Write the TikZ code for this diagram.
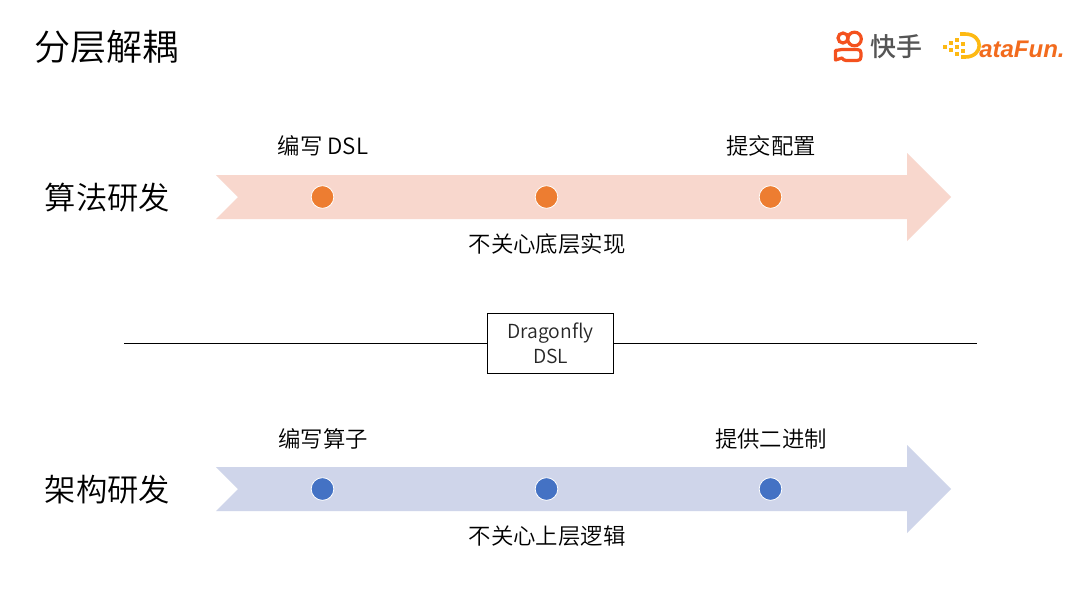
\documentclass[tikz,border=0pt]{standalone}
\usepackage{fontspec}
\setmainfont{Noto Sans CJK SC DemiLight}[BoldFont={Noto Sans CJK SC Bold}]
\newfontfamily\logof{Liberation Sans}
\newfontfamily\ksf{Noto Sans CJK SC Medium}
\definecolor{peach}{HTML}{F8D7CD}
\definecolor{lav}{HTML}{CFD5EA}
\definecolor{dotorange}{HTML}{ED7D31}
\definecolor{dotblue}{HTML}{4472C4}
\definecolor{ink}{HTML}{262626}
\definecolor{ksorange}{HTML}{F4511E}
\definecolor{dfyellow}{HTML}{FDB913}
\definecolor{dforange}{HTML}{F26B1D}
\tikzset{
  x=0.75pt,y=-0.75pt,
  txt/.style={inner sep=0pt,text=black,font=\fontsize{16.8pt}{20pt}\selectfont},
  head/.style={inner sep=0pt,text=black,font=\fontsize{23.5pt}{28pt}\selectfont},
  dotm/.style={circle,draw=white,line width=0.6pt,minimum size=17pt,inner sep=0pt},
  ksline/.style={draw=ksorange,line width=2.4pt},
  dfsq/.style={fill=dfyellow,draw=none}
}
\begin{document}
\begin{tikzpicture}
\useasboundingbox (0,0) rectangle (1080,608);
\fill[white] (0,0) rectangle (1080,608);
% title
\node[inner sep=0pt,anchor=center,text=black,font=\fontsize{27pt}{32pt}\selectfont] (title) at (106,46.5) {分层解耦};
% top arrow
\fill[peach] (216,175) -- (907,175) -- (907,153) -- (951,197) -- (907,241) -- (907,219) -- (216,219) -- (238,197) -- cycle;
\node[dotm,fill=dotorange] (a1) at (322.5,197) {};
\node[dotm,fill=dotorange] (a2) at (546.5,197) {};
\node[dotm,fill=dotorange] (a3) at (770.5,197) {};
\node[head] (h1) at (107.5,198) {算法研发};
\node[txt] (t1) at (323,146) {编写 DSL};
\node[txt] (t2) at (771,146) {提交配置};
\node[txt] (t3) at (547,244.5) {不关心底层实现};
% divider
\node[draw=black,line width=0.75pt,fill=white,minimum width=94pt,minimum height=45pt,inner sep=0pt,align=center,text=ink,font=\fontsize{14.5pt}{18.5pt}\selectfont] (box) at (550.5,343) {Dragonfly\\DSL};
\coordinate (lend) at (124,343);
\coordinate (rend) at (977,343);
\draw[black,line width=0.75pt] (lend) -- (box.west);
\draw[black,line width=0.75pt] (box.east) -- (rend);
% bottom arrow
\fill[lav] (216,467) -- (907,467) -- (907,445) -- (951,489) -- (907,533) -- (907,511) -- (216,511) -- (238,489) -- cycle;
\node[dotm,fill=dotblue] (b1) at (322.5,489) {};
\node[dotm,fill=dotblue] (b2) at (546.5,489) {};
\node[dotm,fill=dotblue] (b3) at (770.5,489) {};
\node[head] (h2) at (107.5,490) {架构研发};
\node[txt] (t4) at (323,438.5) {编写算子};
\node[txt] (t5) at (771,438.5) {提供二进制};
\node[txt] (t6) at (547,536.5) {不关心上层逻辑};
% Kuaishou logo
\draw[ksline] (843,38) circle (5);
\draw[ksline] (854.5,39) circle (6.8);
\draw[ksline,line join=round] (842,49.5) -- (857,49.5) .. controls (860,49.5) and (861,50.5) .. (861,53) -- (861,56.5) .. controls (861,59.5) and (860,60.5) .. (857,60.5) -- (846,60.5) .. controls (843.5,60.5) and (843,59) .. (842,58) -- (835.5,60) -- (835.5,50.5) -- cycle;
\node[inner sep=0pt,text={rgb,255:red,85;green,85;blue,85},font=\ksf\fontsize{19.5pt}{22pt}\selectfont] (ks) at (896,46.5) {快手};
% DataFun logo
\foreach \p in {(945,47),(951,43),(951,50),(957,40),(957,47),(957,54),(963,44),(963,51)}
  \fill[dfsq] \p ++(-2,-2) rectangle ++(4,4);
\draw[dfyellow,line width=2.7pt] (960,34) -- (965,34) .. controls (984,34) and (984,57) .. (965,57) -- (961,57);
\node[inner sep=0pt,anchor=base west,text=dforange,font=\logof\bfseries\itshape\fontsize{18pt}{20pt}\selectfont] (df) at (979,57.5) {ataFun.};
\end{tikzpicture}
\end{document}
